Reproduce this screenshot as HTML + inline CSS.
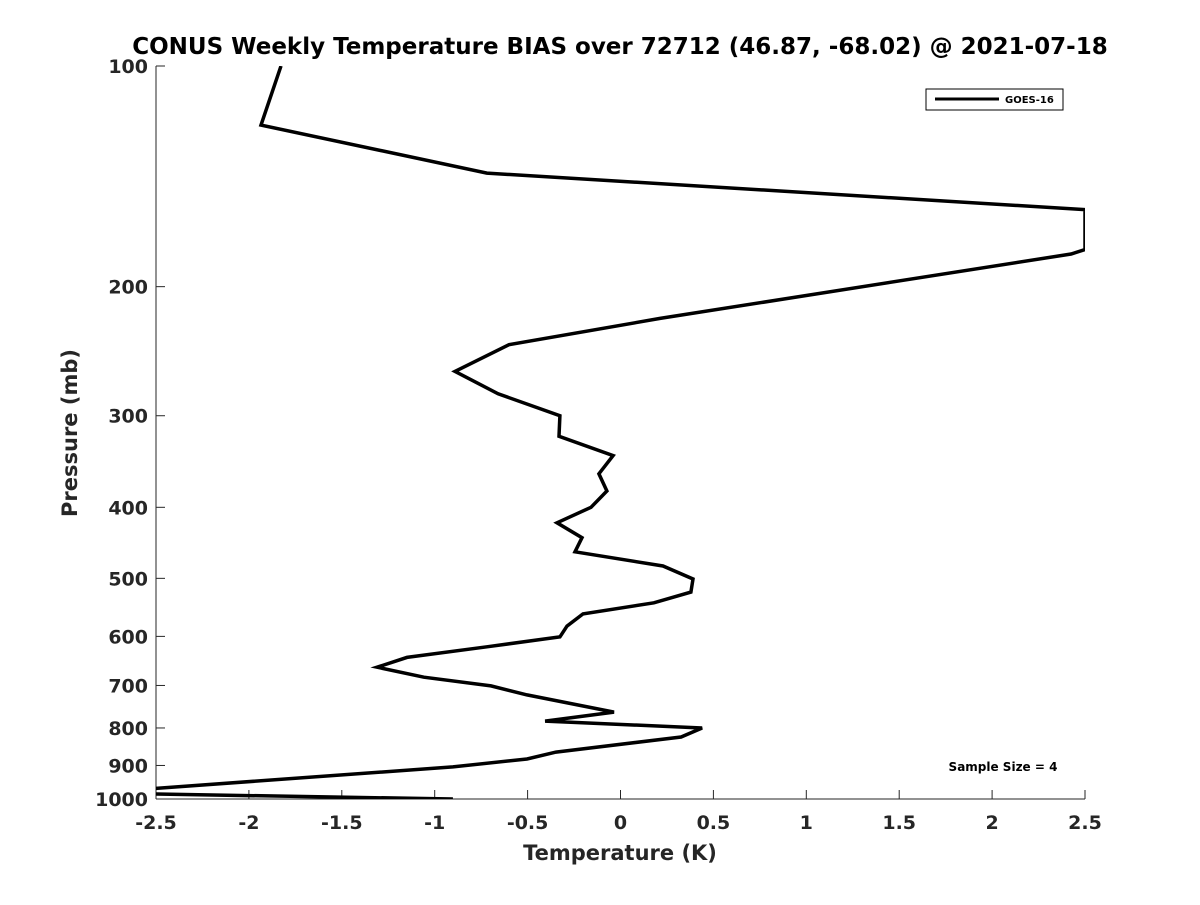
<!DOCTYPE html>
<html><head><meta charset="utf-8"><style>
body{margin:0;background:#fff;font-family:"Liberation Sans",sans-serif}
svg text{font-family:"DejaVu Sans","Liberation Sans",sans-serif;font-weight:bold;fill:#262626}
</style></head><body>
<svg width="1200" height="900" xmlns="http://www.w3.org/2000/svg">
<defs><clipPath id="pc"><rect x="156" y="66" width="929" height="733"/></clipPath></defs>
<text x="620" y="54" text-anchor="middle" font-size="23" style="fill:#000">CONUS Weekly Temperature BIAS over 72712 (46.87, -68.02) @ 2021-07-18</text>
<g id="axes"></g>
<g clip-path="url(#pc)"><polyline id="line" fill="none" stroke="#000" stroke-width="3.5" stroke-linejoin="miter"/></g>
<text x="620" y="860" text-anchor="middle" font-size="21">Temperature (K)</text>
<text transform="translate(77,433) rotate(-90)" text-anchor="middle" font-size="21">Pressure (mb)</text>
<g>
<rect x="926" y="89" width="137" height="21" fill="#fff" stroke="#000" stroke-width="1"/>
<line x1="935" y1="99" x2="999" y2="99" stroke="#000" stroke-width="3"/>
<text x="1005" y="103" font-size="10" style="fill:#000">GOES-16</text>
</g>
<text x="1003" y="771" text-anchor="middle" font-size="12" style="fill:#000">Sample Size = 4</text>
</svg>
<script>
const pressures=[100,120.4,140,157,178,180.5,221,240,261,280,300,320,340,360,380,400,420,440,460,481,501,522,540,559,581,601,620,641,661,682,701,721,761,783,800,823,863,882,904,969,984,1000];
const temps=[-1.827,-1.935,-0.719,2.5,2.5,2.425,0.213,-0.60,-0.891,-0.659,-0.326,-0.331,-0.04,-0.116,-0.073,-0.159,-0.342,-0.207,-0.245,0.229,0.39,0.379,0.18,-0.202,-0.288,-0.326,-0.719,-1.149,-1.31,-1.058,-0.697,-0.503,-0.035,-0.406,0.439,0.326,-0.347,-0.503,-0.902,-2.55,-2.55,-0.902];
const xTicks=[-2.5,-2,-1.5,-1,-0.5,0,0.5,1,1.5,2,2.5];
const yTicks=[100,200,300,400,500,600,700,800,900,1000];
const X0=156,X1=1085,Y0=66,Y1=799;
const xs=t=>X0+(t+2.5)/5*(X1-X0);
const ys=p=>Y0+Math.log10(p/100)*(Y1-Y0);
const NS='http://www.w3.org/2000/svg';
const ax=document.getElementById('axes');
function mk(tag,attrs){const e=document.createElementNS(NS,tag);for(const k in attrs)e.setAttribute(k,attrs[k]);return e;}
let l=mk('line',{x1:X0,y1:Y1,x2:X1,y2:Y1,stroke:'#262626','stroke-width':1});


ax.appendChild(l);
l=mk('line',{x1:X0,y1:Y0,x2:X0,y2:Y1,stroke:'#262626','stroke-width':1});


ax.appendChild(l);
xTicks.forEach(t=>{const x=xs(t);
const tk=mk('line',{x1:x,y1:Y1,x2:x,y2:Y1-9,stroke:'#262626'});


ax.appendChild(tk);
const tx=mk('text',{x:x,y:829,'text-anchor':'middle','font-size':19});


tx.textContent=String(t);ax.appendChild(tx);});
yTicks.forEach(p=>{const y=ys(p);
const tk=mk('line',{x1:X0,y1:y,x2:X0+9,y2:y,stroke:'#262626'});


ax.appendChild(tk);
const tx=mk('text',{x:148,y:y+7,'text-anchor':'end','font-size':19});


tx.textContent=String(p);ax.appendChild(tx);});
document.getElementById('line').setAttribute('points',pressures.map((p,i)=>xs(temps[i]).toFixed(1)+','+ys(p).toFixed(1)).join(' '));
</script>
</body></html>
